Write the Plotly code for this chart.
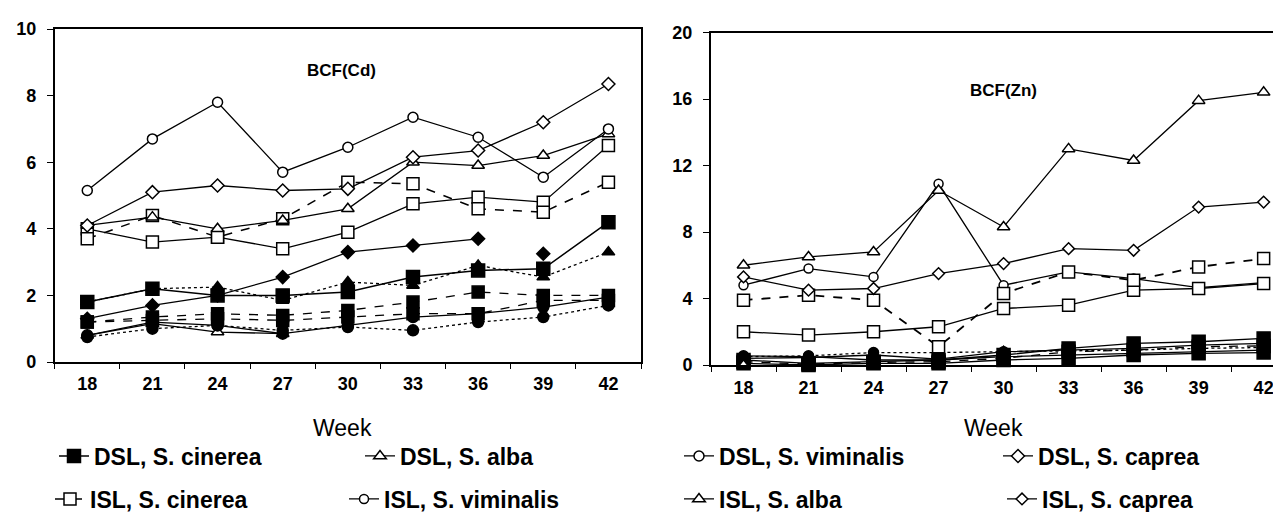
import plotly.graph_objects as go

weeks = ["18", "21", "24", "27", "30", "33", "36", "39", "42"]

# ---- BCF(Cd) panel ----
cd_dsl_viminalis = [5.15, 6.7, 7.8, 5.7, 6.45, 7.35, 6.75, 5.55, 7.0]
cd_dsl_caprea = [4.1, 5.1, 5.3, 5.15, 5.2, 6.15, 6.35, 7.2, 8.35]
cd_dsl_alba = [4.1, 4.35, 4.0, 4.25, 4.6, 6.0, 5.9, 6.2, 6.85]
cd_isl_cinerea = [3.7, 4.4, 3.75, 4.3, 5.4, 5.35, 4.6, 4.5, 5.4]
cd_open_sq_solid = [4.0, 3.6, 3.75, 3.4, 3.9, 4.75, 4.95, 4.8, 6.5]
cd_dsl_cinerea = [1.8, 2.2, 2.0, 2.0, 2.1, 2.55, 2.75, 2.8, 4.2]
cd_filled_diamond = [1.3, 1.7, 2.0, 2.55, 3.3, 3.5, 3.7, None, None]
cd_filled_diamond_b = [None, None, None, None, None, None, None, 3.25, None]
cd_filled_tri_dot = [1.8, 2.2, 2.25, 1.85, 2.4, 2.3, 2.9, 2.55, 3.3]
cd_filled_sq_dash1 = [1.2, 1.35, 1.45, 1.4, 1.55, 1.8, 2.1, 2.0, 2.0]
cd_filled_sq_dash2 = [1.2, 1.25, 1.3, 1.25, 1.35, 1.45, 1.45, 1.85, 1.85]
cd_filled_circ_solid = [0.8, 1.2, 1.1, 0.85, 1.1, 1.35, 1.45, 1.65, 1.95]
cd_filled_circ_dot = [0.75, 1.0, 1.1, 0.95, 1.05, 0.95, 1.2, 1.35, 1.7]
cd_open_tri_low = [0.8, 1.15, 0.9, 0.85, None, None, None, None, None]

# ---- BCF(Zn) panel ----
zn_isl_alba = [6.0, 6.5, 6.8, 10.5, 8.3, 13.0, 12.3, 15.9, 16.4]
zn_isl_viminalis = [4.8, 5.8, 5.3, 10.9, 4.8, 5.6, 5.2, 4.65, 4.95]
zn_isl_caprea = [5.3, 4.5, 4.6, 5.5, 6.1, 7.0, 6.9, 9.5, 9.8]
zn_open_sq_dash = [3.9, 4.2, 3.9, 1.1, 4.3, 5.6, 5.1, 5.9, 6.4]
zn_open_sq_solid = [2.0, 1.8, 2.0, 2.3, 3.4, 3.6, 4.5, 4.6, 4.9]
zn_filled_circ_dot = [0.5, 0.55, 0.75, 0.75, 0.8, 0.85, 0.9, 1.0, 1.05]
zn_filled_circ = [0.55, 0.5, 0.3, 0.3, 0.5, 0.6, 0.7, 0.8, 0.9]
zn_filled_tri = [0.4, 0.45, 0.6, 0.35, 0.8, 0.9, 1.0, 1.2, 1.3]
zn_filled_sq_1 = [0.3, 0.1, 0.2, 0.3, 0.6, 1.0, 1.3, 1.4, 1.6]
zn_filled_sq_2 = [0.2, 0.05, 0.15, 0.2, 0.4, 0.8, 0.9, 1.1, 1.15]
zn_filled_sq_3 = [0.1, 0.0, 0.1, 0.1, 0.3, 0.4, 0.6, 0.7, 0.75]
zn_open_tri_low = [0.05, None, None, None, None, None, None, None, None]

W, H = 1281, 512
FONT = "Arial, Liberation Sans, sans-serif"

# legend slots: (legend id, text start px, row centre px)
legend_slots = {
    "legend": (94, 456), "legend2": (400, 456), "legend3": (719, 456), "legend4": (1038, 456),
    "legend5": (90, 499), "legend6": (384, 499), "legend7": (719, 499), "legend8": (1042, 499),
}

fig = go.Figure()


def add(y, xa, ya, symbol, filled, dash="solid", size=10, lw=1.3, name=None,
        legend=None, mode="lines+markers"):
    marker = dict(symbol=symbol, size=size,
                  color="black" if filled else "white",
                  line=dict(color="black", width=1.5))
    kw = {}
    if name is None:
        kw["showlegend"] = False
    else:
        kw.update(name=name, showlegend=True, legend=legend)
    fig.add_trace(go.Scatter(x=weeks, y=y, xaxis=xa, yaxis=ya, mode=mode,
                             line=dict(color="black", width=lw, dash=dash),
                             marker=marker, connectgaps=False,
                             cliponaxis=False, **kw))


# Cd panel traces
add(cd_open_tri_low, "x", "y", "triangle-up", False, "solid", 11)
add(cd_filled_circ_dot, "x", "y", "circle", True, "dot", 11)
add(cd_filled_circ_solid, "x", "y", "circle", True, "solid", 11)
add(cd_filled_sq_dash2, "x", "y", "square", True, "dash", 12)
add(cd_filled_sq_dash1, "x", "y", "square", True, "dash", 12)
add(cd_filled_tri_dot, "x", "y", "triangle-up", True, "dot", 11)
add(cd_filled_diamond, "x", "y", "diamond", True, "solid", 10)
add(cd_filled_diamond_b, "x", "y", "diamond", True, "solid", 10, mode="markers")
add(cd_dsl_cinerea, "x", "y", "square", True, "solid", 13, 1.5,
    name="DSL, S. cinerea", legend="legend")
add(cd_open_sq_solid, "x", "y", "square", False, "solid", 12)
add(cd_isl_cinerea, "x", "y", "square", False, "dash", 12, 1.5,
    name="ISL, S. cinerea", legend="legend5")
add(cd_dsl_alba, "x", "y", "triangle-up", False, "solid", 11,
    name="DSL, S. alba", legend="legend2")
add(cd_dsl_caprea, "x", "y", "diamond", False, "solid", 10,
    name="DSL, S. caprea", legend="legend4")
add(cd_dsl_viminalis, "x", "y", "circle", False, "solid", 10,
    name="DSL, S. viminalis", legend="legend3")

# Zn panel traces
add(zn_isl_viminalis, "x2", "y2", "circle", False, "solid", 9,
    name="ISL, S. viminalis", legend="legend6")
add(zn_filled_circ_dot, "x2", "y2", "circle", True, "dot", 10)
add(zn_filled_circ, "x2", "y2", "circle", True, "solid", 10)
add(zn_filled_tri, "x2", "y2", "triangle-up", True, "solid", 11)
add(zn_filled_sq_3, "x2", "y2", "square", True, "solid", 13)
add(zn_filled_sq_2, "x2", "y2", "square", True, "dash", 13)
add(zn_filled_sq_1, "x2", "y2", "square", True, "solid", 13)
add(zn_open_tri_low, "x2", "y2", "triangle-up", False, "solid", 9, mode="markers")
add(zn_open_sq_solid, "x2", "y2", "square", False, "solid", 12)
add(zn_open_sq_dash, "x2", "y2", "square", False, "dash", 12, 1.8)
add(zn_isl_caprea, "x2", "y2", "diamond", False, "solid", 9,
    name="ISL, S. caprea", legend="legend8")
add(zn_isl_alba, "x2", "y2", "triangle-up", False, "solid", 11,
    name="ISL, S. alba", legend="legend7")

tickfont = dict(family=FONT, size=18, color="black", weight="bold")

xcommon = dict(type="category", tickson="boundaries", ticks="outside",
               ticklen=5, tickcolor="black", showgrid=False, zeroline=False,
               showline=True, linecolor="black", tickfont=tickfont,
               ticklabelstandoff=5, automargin=False)
ycommon = dict(ticks="outside", ticklen=6, tickcolor="black", showgrid=False,
               zeroline=False, showline=True, linecolor="black",
               tickfont=tickfont, ticklabelstandoff=7, automargin=False)


def note(text, px, py, size, bold):
    f = dict(family=FONT, size=size, color="black")
    if bold:
        f["weight"] = "bold"
    return dict(text=text, x=px / W, y=(H - py) / H, xref="paper", yref="paper",
                xanchor="center", yanchor="middle", showarrow=False, font=f)


layout = dict(
    width=W, height=H,
    margin=dict(l=0, r=0, t=0, b=0, autoexpand=False),
    paper_bgcolor="white", plot_bgcolor="white",
    font=dict(family=FONT, color="black"),
    xaxis=dict(domain=[46.7 / W, 633 / W], range=[-0.5, 8.5], anchor="y",
               mirror=True, linewidth=1.5, **xcommon),
    yaxis=dict(domain=[(H - 354) / H, (H - 21) / H], range=[0, 10], dtick=2,
               anchor="x", mirror=True, linewidth=1.5, **ycommon),
    xaxis2=dict(domain=[703 / W, 1.0], range=[-0.5, 8.39], anchor="y2",
                mirror=True, linewidth=2, **xcommon),
    yaxis2=dict(domain=[(H - 357) / H, (H - 24.5) / H], range=[0, 20], dtick=4,
                anchor="x2", linewidth=2, **ycommon),
    annotations=[
        note("BCF(Cd)", 333, 62, 17, True),
        note("BCF(Zn)", 995, 82, 17, True),
        note("Week", 334, 420, 23, False),
        note("Week", 985, 420, 23, False),
    ],
)
for lid, (tx, ty) in legend_slots.items():
    layout[lid] = dict(orientation="h", x=(tx - 48) / W, xanchor="left",
                       y=(H - ty + 8) / H, yanchor="middle",
                       font=dict(family=FONT, size=23, weight="bold"),
                       bgcolor="rgba(0,0,0,0)", borderwidth=0)

fig.update_layout(**layout)
fig.write_html("out.html")
